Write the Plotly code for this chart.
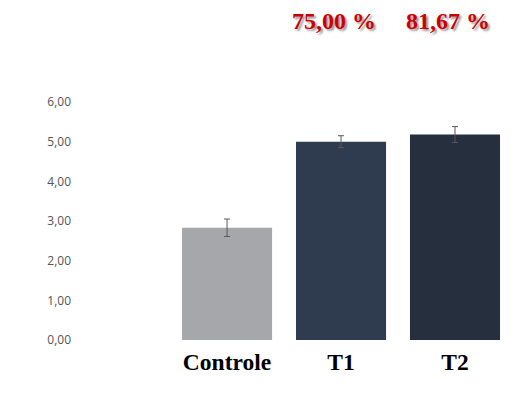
import plotly.graph_objects as go

categories = ["Controle", "T1", "T2"]
values = [2.83, 5.00, 5.18]
errors = [0.22, 0.15, 0.20]
bar_colors = ["#A6A7AB", "#2F3B4E", "#252F3E"]
percent_labels = ["75,00 %", "81,67 %"]
percent_cats = ["T1", "T2"]
y_ticks = [0, 1, 2, 3, 4, 5, 6]
y_tick_text = ["0,00", "1,00", "2,00", "3,00", "4,00", "5,00", "6,00"]

fig = go.Figure()
fig.add_trace(go.Bar(
    x=[0, 1, 2],
    y=values,
    marker=dict(color=bar_colors, line=dict(width=0)),
    error_y=dict(type="data", array=errors, color="#595959", thickness=1, width=3),
    width=0.79,
))

for cat, txt in zip(percent_cats, percent_labels):
    fig.add_annotation(
        x=categories.index(cat), y=1.34, xref="x", yref="paper",
        yanchor="middle",
        text=txt, showarrow=False, xshift=-7,
        font=dict(family="Liberation Serif", size=24, color="#CC0000",
                  weight="bold", shadow="2px 2px 2px #9a9a9a"),
    )

fig.update_layout(
    width=520, height=388,
    margin=dict(l=72, r=16, t=94, b=56),
    paper_bgcolor="white", plot_bgcolor="white",
    showlegend=False,
    bargap=0.21,
    xaxis=dict(
        range=[-1.29, 2.5],
        tickvals=[0, 1, 2], ticktext=categories,
        showgrid=False, zeroline=False, showline=False, ticks="",
        tickfont=dict(family="Liberation Serif", size=23.5, color="black", weight="bold"),
        ticklabelstandoff=5,
    ),
    yaxis=dict(
        range=[0, 6],
        tickvals=y_ticks, ticktext=y_tick_text,
        showgrid=False, zeroline=False, showline=False, ticks="",
        tickfont=dict(family="Open Sans", size=12, color="#555555"),
        ticklabelstandoff=8,
    ),
)

fig.write_html("out.html")
